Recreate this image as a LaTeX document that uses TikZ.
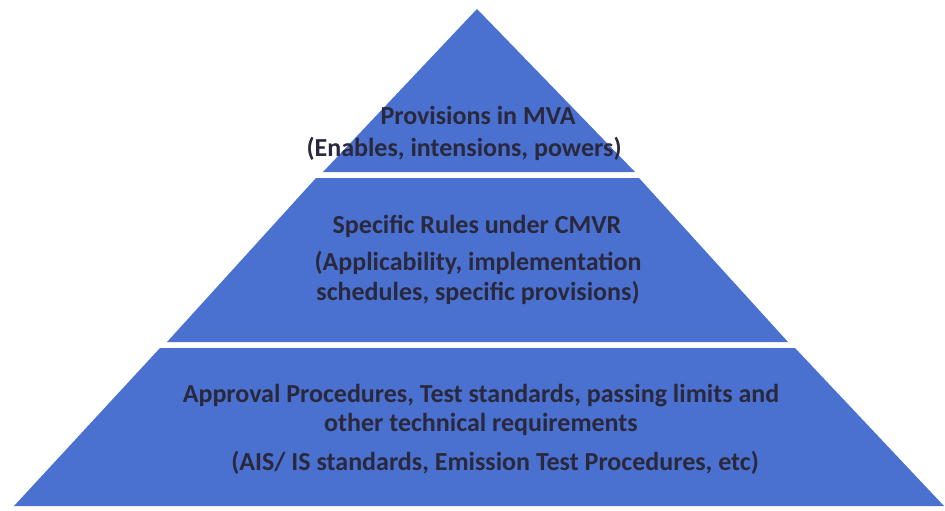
\documentclass[tikz,border=0pt]{standalone}
\usepackage{fontspec}
\setmainfont{Carlito}
\definecolor{Blue}{HTML}{4A70D0}
\definecolor{Ink}{HTML}{2A283C}

\tikzset{tier/.style={text=Ink, font=\bfseries\fontsize{19.5}{22}\selectfont, align=center, inner sep=0pt}}

\begin{document}
\begin{tikzpicture}[x=0.75pt,y=-0.75pt]

\useasboundingbox (0,0) rectangle (945,510);

% three layers of the pyramid
\fill[Blue] (477,9) -- (635,172) -- (323,172) -- cycle;
\fill[Blue] (316,178) -- (639,178) -- (788,342) -- (167,342) -- cycle;
\fill[Blue] (160,348) -- (795,348) -- (944,506) -- (14,506) -- cycle;

% top
\node[tier] (mva) at (478,115) {Provisions in MVA};
\node[tier] (mvanote) at (464,149) {(Enables, intensions, powers)};

% middle
\node[tier] (cmvr) at (477,226) {Specific Rules under CMVR};
\node[tier] (cmvrnote) at (478,278) {(Applicability, implementation\\schedules, specific provisions)};

% bottom
\node[tier] (ais) at (481,410) {Approval Procedures, Test standards, passing limits and\\other technical requirements};
\node[tier] (aisnote) at (495,463) {(AIS/ IS standards, Emission Test Procedures, etc)};

\end{tikzpicture}
\end{document}
